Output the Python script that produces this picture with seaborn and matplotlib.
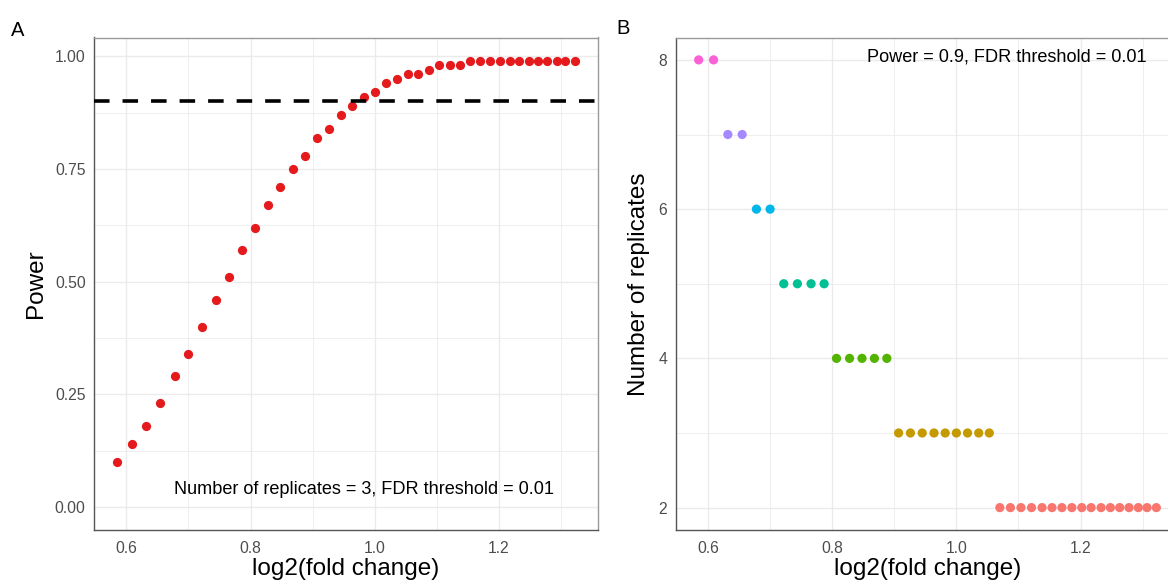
import matplotlib
matplotlib.use("Agg")
import matplotlib.pyplot as plt
import seaborn as sns
import pandas as pd

# ---- data ----
log2_fold_change = [0.585, 0.609, 0.632, 0.655, 0.678, 0.700, 0.722, 0.744, 0.766, 0.787,
                    0.807, 0.828, 0.848, 0.868, 0.888, 0.907, 0.926, 0.945, 0.964, 0.982,
                    1.000, 1.018, 1.036, 1.053, 1.070, 1.087, 1.104, 1.121, 1.138, 1.154,
                    1.170, 1.186, 1.202, 1.217, 1.233, 1.248, 1.263, 1.278, 1.293, 1.307,
                    1.322]
power = [0.10, 0.14, 0.18, 0.23, 0.29, 0.34, 0.40, 0.46, 0.51, 0.57,
         0.62, 0.67, 0.71, 0.75, 0.78, 0.82, 0.84, 0.87, 0.89, 0.91,
         0.92, 0.94, 0.95, 0.96, 0.96, 0.97, 0.98, 0.98, 0.98, 0.99,
         0.99, 0.99, 0.99, 0.99, 0.99, 0.99, 0.99, 0.99, 0.99, 0.99,
         0.99]
replicates = [8, 8, 7, 7, 6, 6, 5, 5, 5, 5,
              4, 4, 4, 4, 4, 3, 3, 3, 3, 3,
              3, 3, 3, 3, 2, 2, 2, 2, 2, 2,
              2, 2, 2, 2, 2, 2, 2, 2, 2, 2,
              2]
power_threshold = 0.9
label_a = "Number of replicates = 3, FDR threshold = 0.01"
label_b = "Power = 0.9, FDR threshold = 0.01"
x_ticks = [0.6, 0.8, 1.0, 1.2]
y_ticks_a = [0.00, 0.25, 0.50, 0.75, 1.00]
y_ticks_b = [2, 4, 6, 8]

df = pd.DataFrame({"lfc": log2_fold_change, "power": power, "rep": replicates})

hue_colors = {2: "#F8766D", 3: "#C49A00", 4: "#53B400", 5: "#00C094",
              6: "#00B6EB", 7: "#A58AFF", 8: "#FB61D7"}

sns.set_theme(style="white")
plt.rcParams["font.family"] = ["Liberation Sans", "DejaVu Sans"]

W, H = 1168, 581
fig = plt.figure(figsize=(W / 100, H / 100), dpi=100)
axA = fig.add_axes([94 / W, 51 / H, 503.7 / W, 492.5 / H])
axB = fig.add_axes([675.7 / W, 51 / H, 503.6 / W, 492.5 / H])

grid_c = "#EBEBEB"


def style(ax, yt, ylim, yminor, ylab, ylab_x):
    ax.set_xlim(0.548, 1.359)
    ax.set_ylim(*ylim)
    ax.set_xticks(x_ticks)
    ax.set_xticklabels([f"{v:.1f}" for v in x_ticks])
    ax.set_yticks(yt)
    ax.set_xticks([0.7, 0.9, 1.1, 1.3], minor=True)
    ax.set_yticks(yminor, minor=True)
    ax.grid(True, which="major", color=grid_c, lw=1.0, zorder=0)
    ax.grid(True, which="minor", color=grid_c, lw=0.6, zorder=0)
    ax.set_axisbelow(True)
    ax.tick_params(which="both", length=0, labelsize=11.3, labelcolor="#4D4D4D")
    ax.tick_params(axis="x", pad=8)
    ax.tick_params(axis="y", pad=6)
    for s in ["top", "right"]:
        ax.spines[s].set_color("#9A9A9A")
        ax.spines[s].set_linewidth(1.0)
    for s in ["left", "bottom"]:
        ax.spines[s].set_color("#555555")
        ax.spines[s].set_linewidth(1.0)
    ax.set_xlabel("log2(fold change)", fontsize=17.5, color="black")
    ax.set_ylabel(ylab, fontsize=17.5, color="black")
    ax.xaxis.set_label_coords(0.5, -0.056)
    ax.yaxis.set_label_coords(ylab_x, 0.5)


# Panel A
sns.scatterplot(data=df, x="lfc", y="power", ax=axA, color="#E41A1C",
                s=44, linewidth=0, zorder=2, legend=False)
axA.axhline(power_threshold, color="black", lw=2.6, dashes=(4.3, 3.6), zorder=3)
style(axA, y_ticks_a, (-0.051, 1.042), [0.125, 0.375, 0.625, 0.875], "Power", -0.094)
axA.set_yticklabels([f"{v:.2f}" for v in y_ticks_a])
axA.text(0.983, 0.039, label_a, ha="center", va="center", fontsize=13.1, color="black")

# Panel B
sns.scatterplot(data=df, x="lfc", y="rep", hue="rep", palette=hue_colors, ax=axB,
                s=44, linewidth=0, zorder=2, legend=False)
style(axB, y_ticks_b, (1.7, 8.3), [3, 5, 7], "Number of replicates", -0.052)
axB.set_yticklabels([str(v) for v in y_ticks_b])
axB.text(1.082, 8.04, label_b, ha="center", va="center", fontsize=13.1, color="black")

fig.text(11 / W, 1 - 30 / H, "A", fontsize=14.5, ha="left", va="center", color="black")
fig.text(616 / W, 1 - 29 / H, "B", fontsize=14.5, ha="left", va="center", color="black")

fig.savefig("out.png", dpi=100)
